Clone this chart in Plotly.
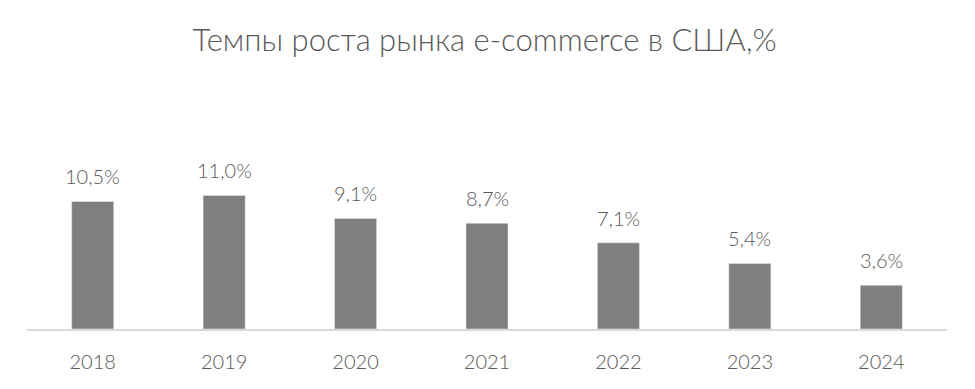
import plotly.graph_objects as go

years = ["2018", "2019", "2020", "2021", "2022", "2023", "2024"]
growth = [10.5, 11.0, 9.1, 8.7, 7.1, 5.4, 3.6]
labels = [f"{v:.1f}%".replace(".", ",") for v in growth]

TEXT = "#595959"
FONT = "Lato, sans-serif"

fig = go.Figure(go.Bar(
    x=years, y=growth,
    marker_color="#7f7f7f",
    hoverinfo="x+y",
))
for i, (v, lab) in enumerate(zip(growth, labels)):
    fig.add_annotation(x=i, y=v, text=lab, showarrow=False,
                       xanchor="center", yanchor="bottom", yshift=11,
                       font=dict(family=FONT, size=20, color=TEXT, weight=300))

fig.update_layout(
    width=959, height=373,
    margin=dict(l=19, r=20, t=72, b=52, autoexpand=False),
    paper_bgcolor="white", plot_bgcolor="white",
    separators=", ",
    font=dict(family=FONT, color=TEXT),
    title=dict(text="Темпы роста рынка e-commerce в США,%", x=0.497, xanchor="center",
               y=0.914, yanchor="middle",
               font=dict(family=FONT, size=31, color=TEXT, weight=300)),
    bargap=0.68,
    showlegend=False,
)
fig.update_xaxes(type="category", range=[-0.5, len(years) - 0.5],
                 showline=True, linecolor="#d9d9d9", linewidth=2,
                 automargin=False,
                 tickfont=dict(family=FONT, size=20, color=TEXT, weight=300),
                 ticks="outside", ticklen=14, tickcolor="rgba(0,0,0,0)")
fig.update_yaxes(visible=False, range=[0, 20.5])
fig.write_html("out.html")
